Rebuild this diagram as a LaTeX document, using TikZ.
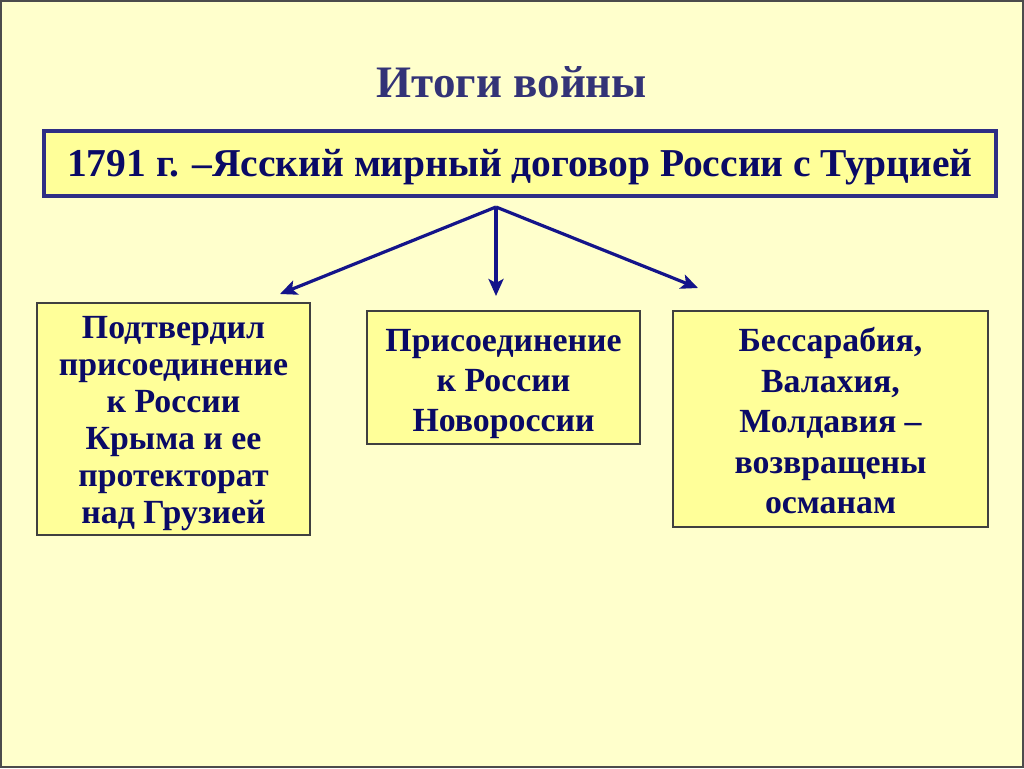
\documentclass[tikz,border=0pt]{standalone}
\usepackage{fontspec}
\setmainfont{Liberation Serif}
\usetikzlibrary{arrows.meta}
\definecolor{bg}{HTML}{FFFFCC}
\definecolor{boxfill}{HTML}{FFFF99}
\definecolor{ink}{HTML}{0A0A66}
\definecolor{titleink}{HTML}{333377}
\definecolor{mainborder}{HTML}{2E2E85}
\definecolor{arrowink}{HTML}{14148A}
\tikzset{
  mainbox/.style={draw=mainborder, line width=3.5pt, fill=boxfill, inner sep=0pt},
  maintext/.style={text=ink, font=\bfseries\fontsize{39.5}{44}\selectfont, inner sep=0pt},
  subbox/.style={draw=black!75, line width=1.3pt, fill=boxfill, inner sep=0pt},
  subtext/.style={text=ink, align=center, inner sep=0pt},
  link/.style={draw=arrowink, line width=3.2pt, -{Stealth[length=17pt,width=15pt,inset=4pt]}},
}
\begin{document}
\begin{tikzpicture}[x=1pt,y=-1pt]
\fill[bg] (0,0) rectangle (1024,768);
\useasboundingbox (0,0) rectangle (1024,768);
\draw[black!70, line width=2pt] (1,1) rectangle (1023,767);

\node[text=titleink, font=\bfseries\fontsize{45}{50}\selectfont] (title) at (512,82) {Итоги войны};

\node[mainbox, minimum width=952pt, minimum height=65pt] (main) at (520,163.5) {};
\node[maintext] (mainText) at ([yshift=-4pt]main.center)
  {1791 г. –Ясский мирный договор России с Турцией};

\node[subbox, minimum width=273pt, minimum height=232pt] (left) at (173.5,419) {};
\node[subtext, font=\bfseries\fontsize{33.8}{37}\selectfont] (leftText) at ([yshift=-5pt]left.center)
  {Подтвердил\\присоединение\\к России\\Крыма и ее\\протекторат\\над Грузией};
\node[subbox, minimum width=273pt, minimum height=133pt] (mid) at (503.5,377.5) {};
\node[subtext, font=\bfseries\fontsize{33.8}{40}\selectfont] (midText) at ([yshift=-7pt]mid.center)
  {Присоединение\\к России\\Новороссии};
\node[subbox, minimum width=315pt, minimum height=216pt] (right) at (830.5,419) {};
\node[subtext, font=\bfseries\fontsize{33.8}{40.5}\selectfont] (rightText) at ([yshift=-2pt]right.center)
  {Бессарабия,\\Валахия,\\Молдавия –\\возвращены\\османам};

\coordinate (src) at (496,207);
\coordinate (tl) at (280,294);
\coordinate (tm) at (496,296);
\coordinate (tr) at (698,288);
\draw[link] (src) -- (tl);
\draw[link] (src) -- (tm);
\draw[link] (src) -- (tr);
\end{tikzpicture}
\end{document}
